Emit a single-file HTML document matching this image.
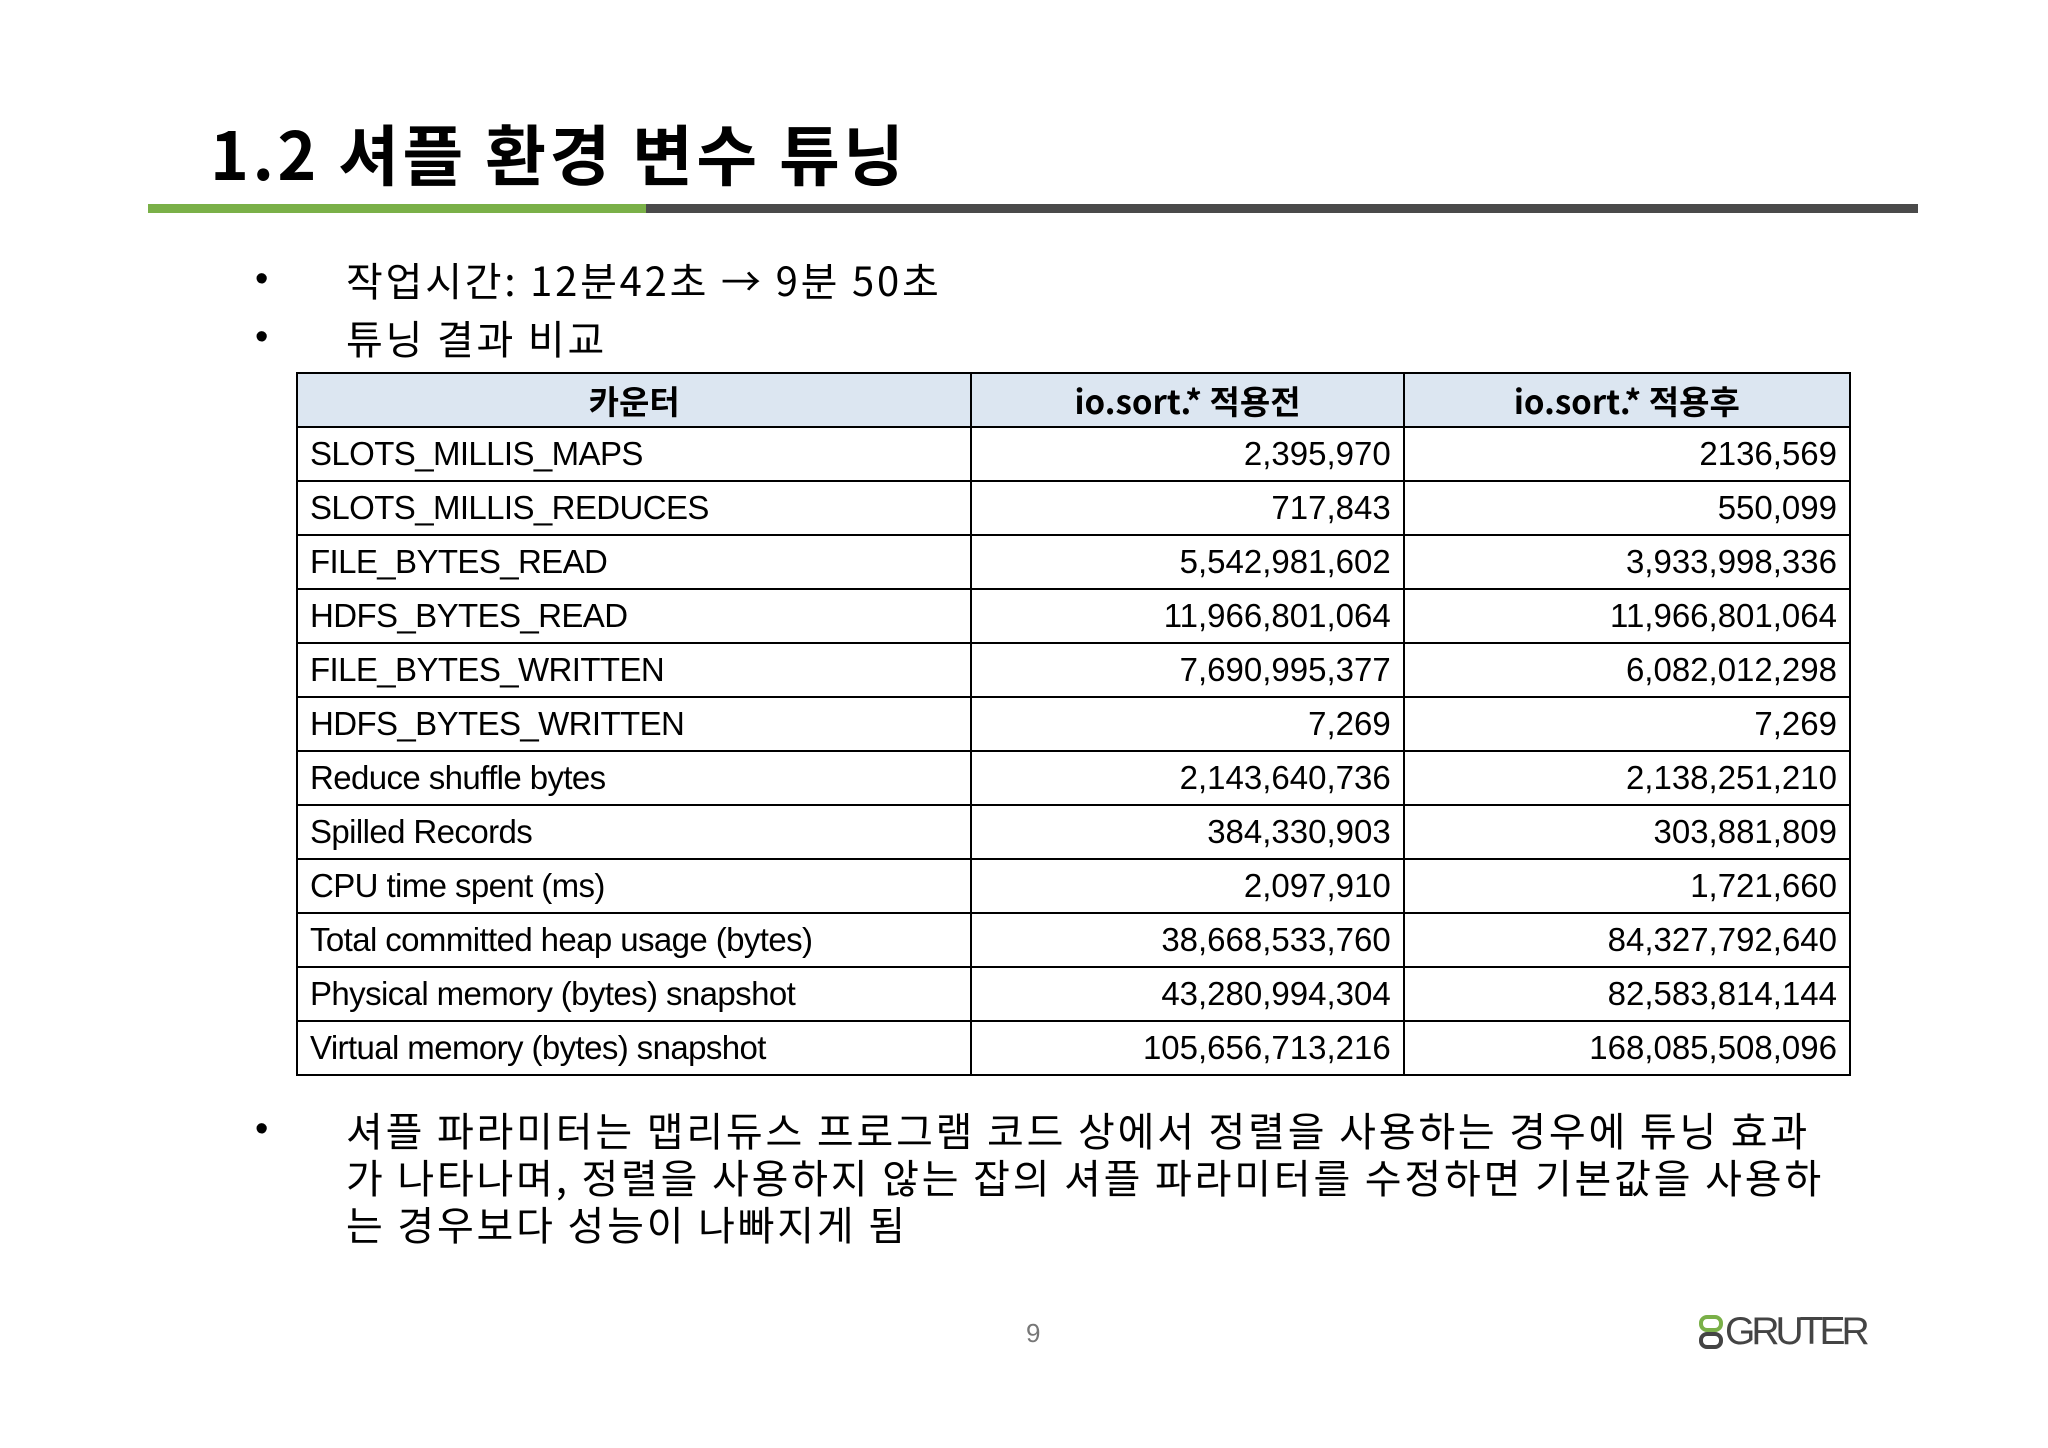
<!DOCTYPE html>
<html><head><meta charset="utf-8">
<style>
body{margin:0;width:2048px;height:1448px;background:#fff;position:relative;overflow:hidden;font-family:"Liberation Sans","Noto Sans CJK KR",sans-serif;color:#000}
.abs{position:absolute}
#title{left:210px;top:112px;font-size:66px;font-weight:bold;font-family:"Noto Sans CJK KR",sans-serif;line-height:80px;letter-spacing:3.5px}
.bul{position:absolute;left:255px;font-size:38px}
.btxt{position:absolute;left:346px;font-size:40px;font-family:"Noto Sans CJK KR",sans-serif;line-height:47px;letter-spacing:2.8px}
table{position:absolute;left:296px;top:372px;width:1555px;border-collapse:collapse;font-size:33px}
td,th{border:2.5px solid #000;height:52px;padding:0 12px;line-height:50px;white-space:nowrap}
td:first-child{letter-spacing:-0.6px}
th{background:#dce6f1;font-weight:bold;text-align:center;font-family:"Noto Sans CJK KR",sans-serif;font-size:33px}
td.n{text-align:right}
</style></head><body>
<div id="title" class="abs">1.2 셔플 환경 변수 튜닝</div>
<div class="abs" style="left:148px;top:204px;width:498px;height:9px;background:#7ab048"></div>
<div class="abs" style="left:646px;top:204px;width:1272px;height:9px;background:#4a4a4a"></div>

<div class="bul" style="top:258px">•</div>
<div class="btxt" style="top:256px">작업시간: 12분42초 → 9분 50초</div>
<div class="bul" style="top:316px">•</div>
<div class="btxt" style="top:314px">튜닝 결과 비교</div>

<table>
<colgroup><col style="width:675px"><col style="width:433px"><col style="width:447px"></colgroup>
<tr><th>카운터</th><th>io.sort.* 적용전</th><th>io.sort.* 적용후</th></tr>
<tr><td>SLOTS_MILLIS_MAPS</td><td class="n">2,395,970</td><td class="n">2136,569</td></tr>
<tr><td>SLOTS_MILLIS_REDUCES</td><td class="n">717,843</td><td class="n">550,099</td></tr>
<tr><td>FILE_BYTES_READ</td><td class="n">5,542,981,602</td><td class="n">3,933,998,336</td></tr>
<tr><td>HDFS_BYTES_READ</td><td class="n">11,966,801,064</td><td class="n">11,966,801,064</td></tr>
<tr><td>FILE_BYTES_WRITTEN</td><td class="n">7,690,995,377</td><td class="n">6,082,012,298</td></tr>
<tr><td>HDFS_BYTES_WRITTEN</td><td class="n">7,269</td><td class="n">7,269</td></tr>
<tr><td>Reduce shuffle bytes</td><td class="n">2,143,640,736</td><td class="n">2,138,251,210</td></tr>
<tr><td>Spilled Records</td><td class="n">384,330,903</td><td class="n">303,881,809</td></tr>
<tr><td>CPU time spent (ms)</td><td class="n">2,097,910</td><td class="n">1,721,660</td></tr>
<tr><td>Total committed heap usage (bytes)</td><td class="n">38,668,533,760</td><td class="n">84,327,792,640</td></tr>
<tr><td>Physical memory (bytes) snapshot</td><td class="n">43,280,994,304</td><td class="n">82,583,814,144</td></tr>
<tr><td>Virtual memory (bytes) snapshot</td><td class="n">105,656,713,216</td><td class="n">168,085,508,096</td></tr>
</table>

<div class="bul" style="top:1108px">•</div>
<div class="btxt" style="top:1106px;width:1560px">셔플 파라미터는 맵리듀스 프로그램 코드 상에서 정렬을 사용하는 경우에 튜닝 효과<br>가 나타나며, 정렬을 사용하지 않는 잡의 셔플 파라미터를 수정하면 기본값을 사용하<br>는 경우보다 성능이 나빠지게 됨</div>

<div class="abs" style="left:1026px;top:1318px;font-size:26px;color:#777">9</div>
<div class="abs" style="left:1698px;top:1312px;height:40px;">
<svg width="30" height="40" style="position:absolute;left:0;top:2px"><rect x="3" y="3" width="20" height="13" rx="6" fill="none" stroke="#7ab048" stroke-width="4"/><rect x="3" y="20" width="20" height="13" rx="6" fill="none" stroke="#444" stroke-width="4"/></svg>
<span style="position:absolute;left:27px;top:-2px;font-size:39px;color:#444;letter-spacing:-4px;font-family:'Liberation Sans',sans-serif">GRUTER</span>
</div>
</body></html>
